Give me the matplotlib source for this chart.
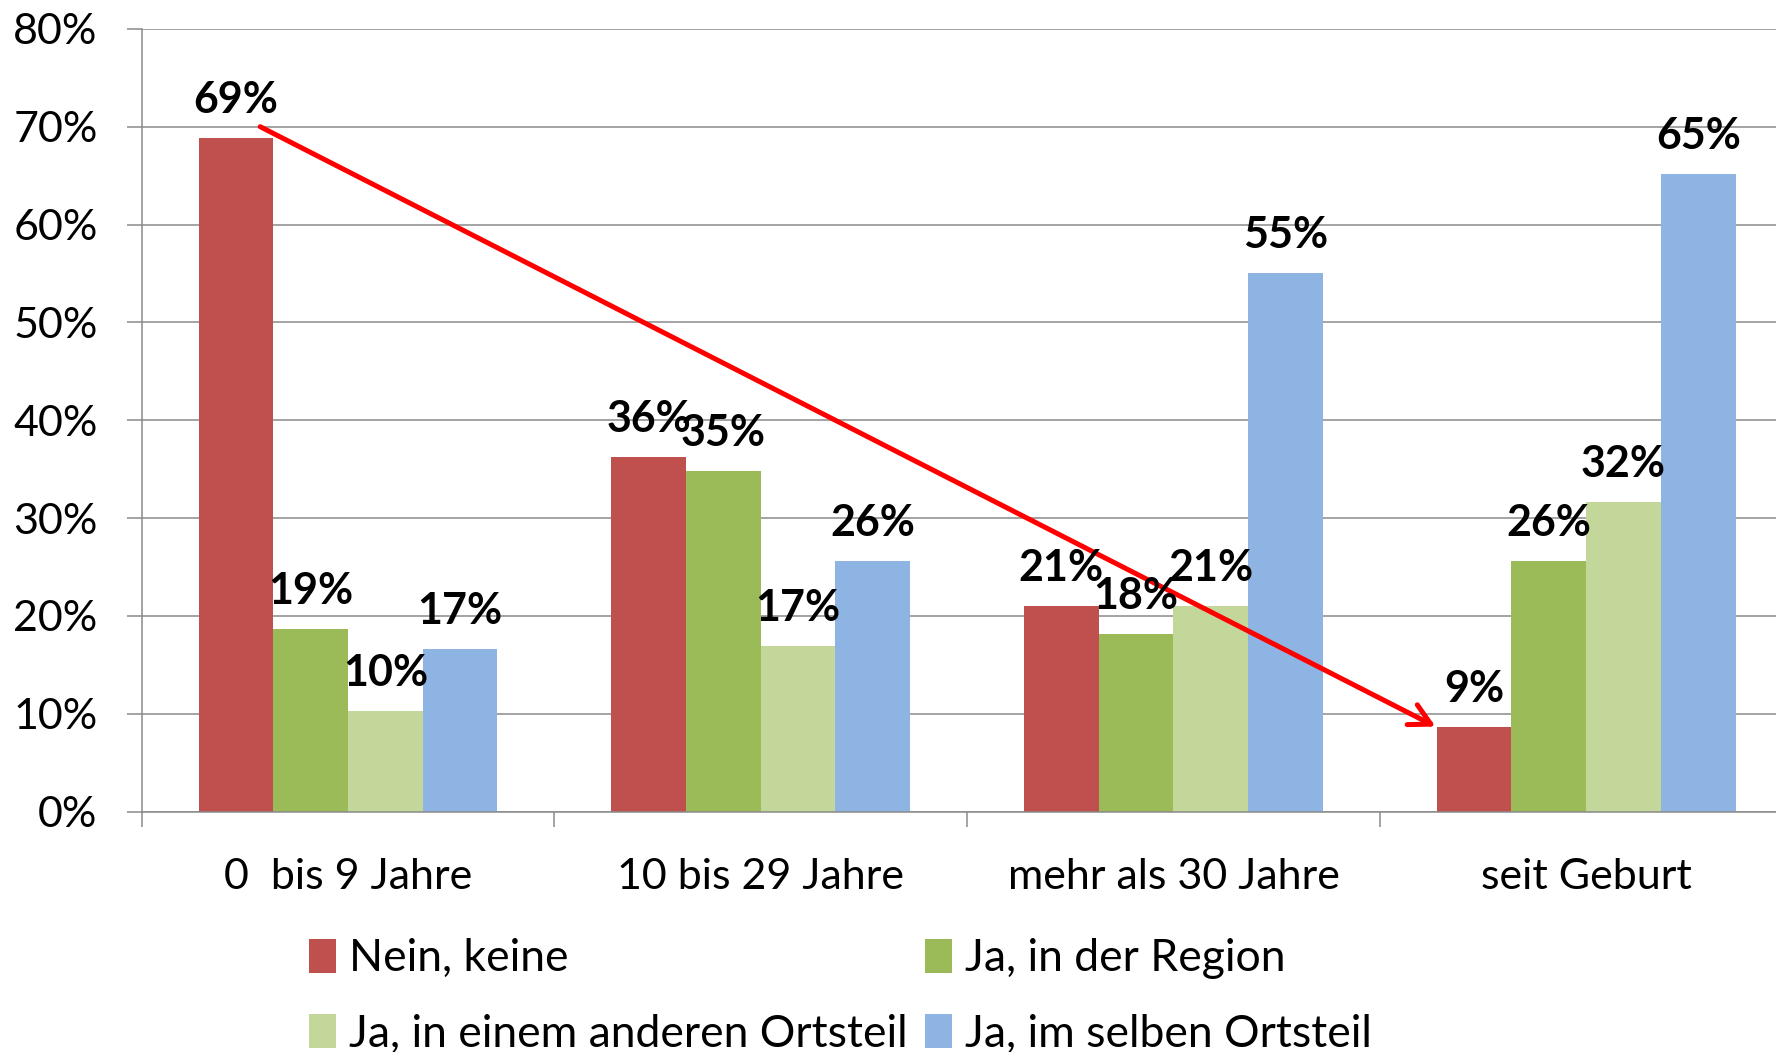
import matplotlib as mpl
mpl.use('Agg')
import matplotlib.pyplot as plt
from matplotlib.ticker import FixedLocator, PercentFormatter

plt.rcParams['font.family'] = ['Lato', 'DejaVu Sans']

categories = ['0  bis 9 Jahre', '10 bis 29 Jahre', 'mehr als 30 Jahre', 'seit Geburt']
series_names = ['Nein, keine', 'Ja, in der Region', 'Ja, in einem anderen Ortsteil', 'Ja, im selben Ortsteil']
nein_keine = [0.688, 0.362, 0.210, 0.087]
ja_region = [0.187, 0.348, 0.182, 0.256]
ja_anderer_ortsteil = [0.103, 0.169, 0.210, 0.316]
ja_selber_ortsteil = [0.166, 0.256, 0.550, 0.652]
colors = ['#C0504D', '#9BBB59', '#C4D79B', '#8EB4E3']

series = [nein_keine, ja_region, ja_anderer_ortsteil, ja_selber_ortsteil]
grey = '#8a8a8a'

fig = plt.figure(figsize=(17.76, 10.52), dpi=100)
ax = fig.add_axes([0.0798, 0.2284, 0.9295, 0.7442])

w = 0.181
x = list(range(len(categories)))
bars = []
for i, vals in enumerate(series):
    xs = [xi + (i - 1.5) * w for xi in x]
    b = ax.bar(xs, vals, width=w, color=colors[i], zorder=2)
    bars.append(b)
    for xv, v in zip(xs, vals):
        ax.annotate('%d%%' % round(v * 100), (xv, v), xytext=(0, 18), textcoords='offset points',
                    ha='center', va='baseline', fontsize=31, fontweight='bold', zorder=5)

# red arrow from first group to last group
ax.annotate('', xy=(2.635, 0.087), xytext=(-0.213, 0.70),
            arrowprops=dict(arrowstyle='->,head_length=0.75,head_width=0.4', color='red',
                            lw=3.6, shrinkA=0, shrinkB=0, mutation_scale=20), zorder=4)

ax.set_xlim(-0.5, 3.5)
ax.set_ylim(0, 0.8)
ax.set_yticks([i / 10 for i in range(9)])
ax.yaxis.set_major_formatter(PercentFormatter(1.0, decimals=0))
ax.set_xticks(x)
ax.set_xticklabels(categories)
ax.xaxis.set_minor_locator(FixedLocator([-0.5, 0.5, 1.5, 2.5, 3.5]))
ax.tick_params(axis='x', which='major', length=0, pad=33, labelsize=31)
ax.tick_params(axis='x', which='minor', length=10.8, width=1.1, color=grey, direction='out')
ax.tick_params(axis='y', length=10.8, width=1.1, color=grey, pad=21, labelsize=31)

ax.grid(axis='y', color=grey, linewidth=1.1, zorder=0)
ax.set_axisbelow(True)
for s in ['top', 'right']:
    ax.spines[s].set_visible(False)
for s in ['left', 'bottom']:
    ax.spines[s].set_color(grey)
    ax.spines[s].set_linewidth(1.1)

order = [0, 2, 1, 3]
ax.legend([bars[i] for i in order], [series_names[i] for i in order], ncol=2,
          loc='upper left', bbox_to_anchor=(309 / 1776, 1 - 938 / 1052),
          bbox_transform=fig.transFigure, frameon=False, fontsize=32,
          handlelength=0.6, handleheight=0.8, handletextpad=0.3,
          columnspacing=0.4, labelspacing=0.78, borderpad=0, borderaxespad=0)

plt.savefig('out.png', dpi=100)
plt.close()
